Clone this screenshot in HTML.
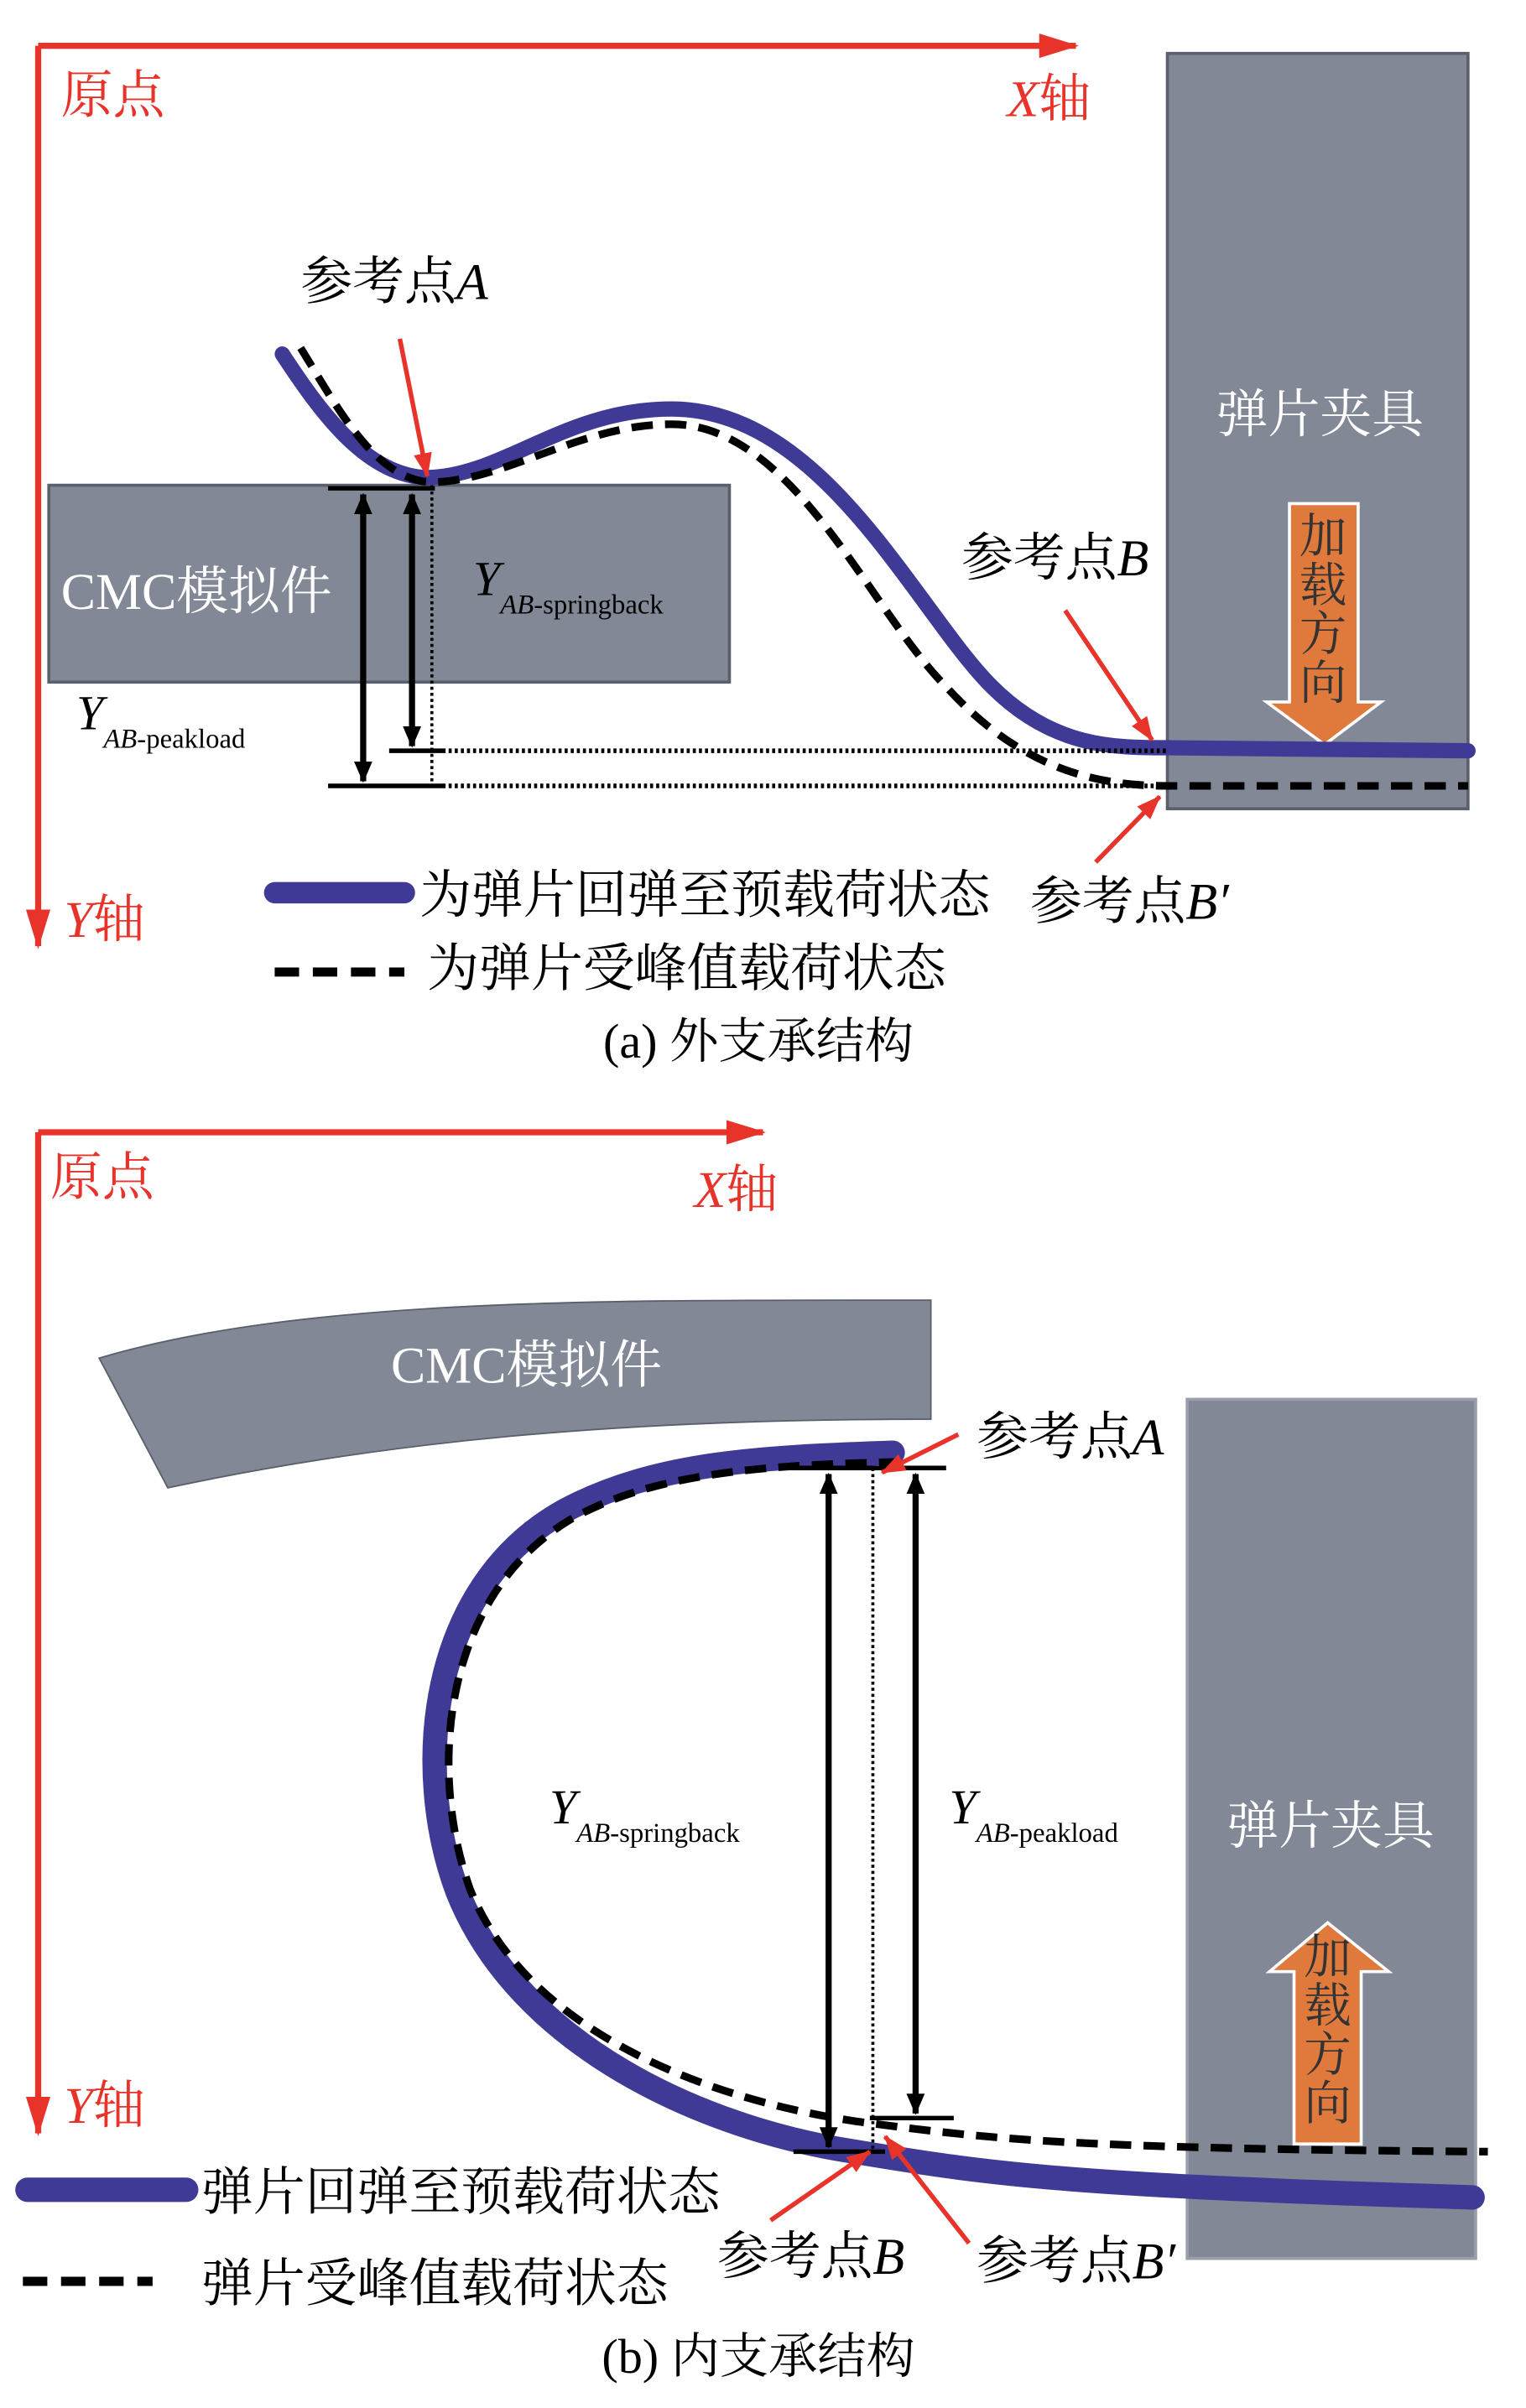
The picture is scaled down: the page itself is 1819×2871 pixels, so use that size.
<!DOCTYPE html>
<html><head><meta charset="utf-8"><style>
html,body{margin:0;padding:0;background:#fff;}
svg{display:block;}
text{font-family:"Liberation Serif","Noto Serif CJK SC",serif;}
</style></head><body>
<svg width="1819" height="2871" viewBox="0 0 1000 1578" preserveAspectRatio="none" xmlns="http://www.w3.org/2000/svg">
<defs>
<marker id="rax" markerWidth="26" markerHeight="16" refX="24" refY="8" orient="auto" markerUnits="userSpaceOnUse"><path d="M0,0 L26,8 L0,16 z" fill="#e8332a"/></marker>
<marker id="rs" markerWidth="16" markerHeight="12" refX="15" refY="6" orient="auto" markerUnits="userSpaceOnUse"><path d="M0,0 L16,6 L0,12 z" fill="#e8332a"/></marker>
<marker id="ba" markerWidth="14" markerHeight="14" refX="13" refY="7" orient="auto-start-reverse" markerUnits="userSpaceOnUse"><path d="M0,1 L14,7 L0,13 z" fill="#000"/></marker>
</defs>

<!-- ===== (a) ===== -->
<line x1="25" y1="30" x2="705" y2="30" stroke="#e8332a" stroke-width="4" marker-end="url(#rax)"/>
<line x1="25" y1="30" x2="25" y2="620" stroke="#e8332a" stroke-width="4" marker-end="url(#rax)"/>
<text x="40" y="74" font-size="34" fill="#e8332a">原点</text>
<text x="660" y="76" font-size="34" fill="#e8332a"><tspan font-style="italic">X</tspan>轴</text>
<text x="42" y="614" font-size="34" fill="#e8332a"><tspan font-style="italic">Y</tspan>轴</text>

<rect x="765" y="35" width="197" height="495" fill="#838896" stroke="#5a5f6c" stroke-width="2"/>
<text x="865" y="283" font-size="34" fill="#fff" text-anchor="middle">弹片夹具</text>
<path d="M845,330 H890 V460 H905 L868,488 L830,460 H845 Z" fill="#e07a3c" stroke="#fff" stroke-width="2"/>
<text font-size="31" fill="#333" text-anchor="middle"><tspan x="867" y="362">加</tspan><tspan x="867" y="394">载</tspan><tspan x="867" y="426">方</tspan><tspan x="867" y="458">向</tspan></text>

<rect x="32" y="318" width="446" height="129" fill="#838896" stroke="#5a5f6c" stroke-width="2"/>
<text x="40" y="399" font-size="34" fill="#fff">CMC模拟件</text>

<path d="M185,232 C210,270 240,312 280,313 C330,312 370,268 440,268 C540,268 600,400 650,450 C690,490 730,490 765,490 L962,492" fill="none" stroke="#3f3a96" stroke-width="10" stroke-linecap="round"/>
<path d="M197,228 C220,265 245,314 282,316 C330,316 380,278 440,278 C520,278 570,400 620,450 C670,505 720,515 765,515 L962,515" fill="none" stroke="#000" stroke-width="5" stroke-dasharray="14,8"/>

<line x1="215" y1="320" x2="285" y2="320" stroke="#000" stroke-width="3"/>
<line x1="255" y1="492" x2="290" y2="492" stroke="#000" stroke-width="3"/>
<line x1="215" y1="515" x2="290" y2="515" stroke="#000" stroke-width="3"/>
<line x1="283" y1="318" x2="283" y2="515" stroke="#000" stroke-width="2" stroke-dasharray="2,2"/>
<line x1="290" y1="492" x2="765" y2="492" stroke="#000" stroke-width="3" stroke-dasharray="2,2"/>
<line x1="290" y1="515" x2="765" y2="515" stroke="#000" stroke-width="3" stroke-dasharray="2,2"/>
<line x1="238" y1="324" x2="238" y2="512" stroke="#000" stroke-width="4" marker-start="url(#ba)" marker-end="url(#ba)"/>
<line x1="270" y1="324" x2="270" y2="489" stroke="#000" stroke-width="4" marker-start="url(#ba)" marker-end="url(#ba)"/>

<text x="197" y="196" font-size="34">参考点<tspan font-style="italic">A</tspan></text>
<line x1="262" y1="222" x2="280" y2="312" stroke="#e8332a" stroke-width="3" marker-end="url(#rs)"/>
<text x="310" y="390" font-size="32" font-style="italic">Y<tspan font-size="18" dy="12">AB</tspan><tspan font-size="18" font-style="normal">-springback</tspan></text>
<text x="50" y="478" font-size="32" font-style="italic">Y<tspan font-size="18" dy="12">AB</tspan><tspan font-size="18" font-style="normal">-peakload</tspan></text>
<text x="630" y="377" font-size="34">参考点<tspan font-style="italic">B</tspan></text>
<line x1="698" y1="400" x2="755" y2="485" stroke="#e8332a" stroke-width="3" marker-end="url(#rs)"/>
<text x="675" y="602" font-size="34">参考点<tspan font-style="italic">B′</tspan></text>
<line x1="718" y1="565" x2="760" y2="522" stroke="#e8332a" stroke-width="3" marker-end="url(#rs)"/>

<line x1="180" y1="585" x2="265" y2="585" stroke="#3f3a96" stroke-width="14" stroke-linecap="round"/>
<text x="275" y="598" font-size="34">为弹片回弹至预载荷状态</text>
<line x1="180" y1="637" x2="265" y2="637" stroke="#000" stroke-width="6" stroke-dasharray="16,9"/>
<text x="280" y="646" font-size="34">为弹片受峰值载荷状态</text>
<text x="497" y="693" font-size="32" text-anchor="middle">(a) 外支承结构</text>

<!-- ===== (b) ===== -->
<line x1="25" y1="742" x2="500" y2="742" stroke="#e8332a" stroke-width="4" marker-end="url(#rax)"/>
<line x1="25" y1="742" x2="25" y2="1398" stroke="#e8332a" stroke-width="4" marker-end="url(#rax)"/>
<text x="33" y="783" font-size="34" fill="#e8332a">原点</text>
<text x="455" y="791" font-size="34" fill="#e8332a"><tspan font-style="italic">X</tspan>轴</text>
<text x="42" y="1391" font-size="34" fill="#e8332a"><tspan font-style="italic">Y</tspan>轴</text>

<path d="M65,890 C200,850 400,852 610,852 L610,930 C400,930 250,945 110,975 Z" fill="#838896" stroke="#5a5f6c" stroke-width="1"/>
<text x="345" y="906" font-size="34" fill="#fff" text-anchor="middle">CMC模拟件</text>

<rect x="778" y="917" width="189" height="563" fill="#838896" stroke="#9a9eaa" stroke-width="2"/>
<text x="872" y="1208" font-size="34" fill="#fff" text-anchor="middle">弹片夹具</text>
<path d="M870,1260 L910,1292 H892 V1405 H848 V1292 H832 Z" fill="#e07a3c" stroke="#fff" stroke-width="2"/>
<text font-size="31" fill="#333" text-anchor="middle"><tspan x="870" y="1293">加</tspan><tspan x="870" y="1325">载</tspan><tspan x="870" y="1357">方</tspan><tspan x="870" y="1389">向</tspan></text>

<path d="M585,952 C500,955 430,958 370,990 C280,1040 270,1160 300,1240 C340,1340 460,1395 560,1410 C650,1425 700,1432 965,1440" fill="none" stroke="#3f3a96" stroke-width="16" stroke-linecap="round"/>
<path d="M590,958 C500,960 430,965 375,995 C290,1045 280,1160 308,1238 C345,1330 460,1375 560,1390 C650,1402 700,1408 975,1410" fill="none" stroke="#000" stroke-width="5" stroke-dasharray="14,8"/>

<line x1="515" y1="962" x2="620" y2="962" stroke="#000" stroke-width="3"/>
<line x1="570" y1="1388" x2="625" y2="1388" stroke="#000" stroke-width="3"/>
<line x1="520" y1="1410" x2="580" y2="1410" stroke="#000" stroke-width="3"/>
<line x1="572" y1="962" x2="572" y2="1410" stroke="#000" stroke-width="2" stroke-dasharray="2,2"/>
<line x1="543" y1="966" x2="543" y2="1407" stroke="#000" stroke-width="4" marker-start="url(#ba)" marker-end="url(#ba)"/>
<line x1="600" y1="966" x2="600" y2="1385" stroke="#000" stroke-width="4" marker-start="url(#ba)" marker-end="url(#ba)"/>

<text x="640" y="953" font-size="34">参考点<tspan font-style="italic">A</tspan></text>
<line x1="628" y1="940" x2="578" y2="965" stroke="#e8332a" stroke-width="3" marker-end="url(#rs)"/>
<text x="360" y="1195" font-size="32" font-style="italic">Y<tspan font-size="18" dy="12">AB</tspan><tspan font-size="18" font-style="normal">-springback</tspan></text>
<text x="622" y="1195" font-size="32" font-style="italic">Y<tspan font-size="18" dy="12">AB</tspan><tspan font-size="18" font-style="normal">-peakload</tspan></text>
<text x="470" y="1490" font-size="34">参考点<tspan font-style="italic">B</tspan></text>
<line x1="505" y1="1455" x2="570" y2="1410" stroke="#e8332a" stroke-width="3" marker-end="url(#rs)"/>
<text x="640" y="1493" font-size="34">参考点<tspan font-style="italic">B′</tspan></text>
<line x1="635" y1="1470" x2="580" y2="1400" stroke="#e8332a" stroke-width="3" marker-end="url(#rs)"/>

<line x1="18" y1="1435" x2="122" y2="1435" stroke="#3f3a96" stroke-width="16" stroke-linecap="round"/>
<text x="132" y="1448" font-size="34">弹片回弹至预载荷状态</text>
<line x1="15" y1="1495" x2="100" y2="1495" stroke="#000" stroke-width="6" stroke-dasharray="16,9"/>
<text x="132" y="1508" font-size="34">弹片受峰值载荷状态</text>
<text x="497" y="1555" font-size="32" text-anchor="middle">(b) 内支承结构</text>
</svg>
</body></html>
